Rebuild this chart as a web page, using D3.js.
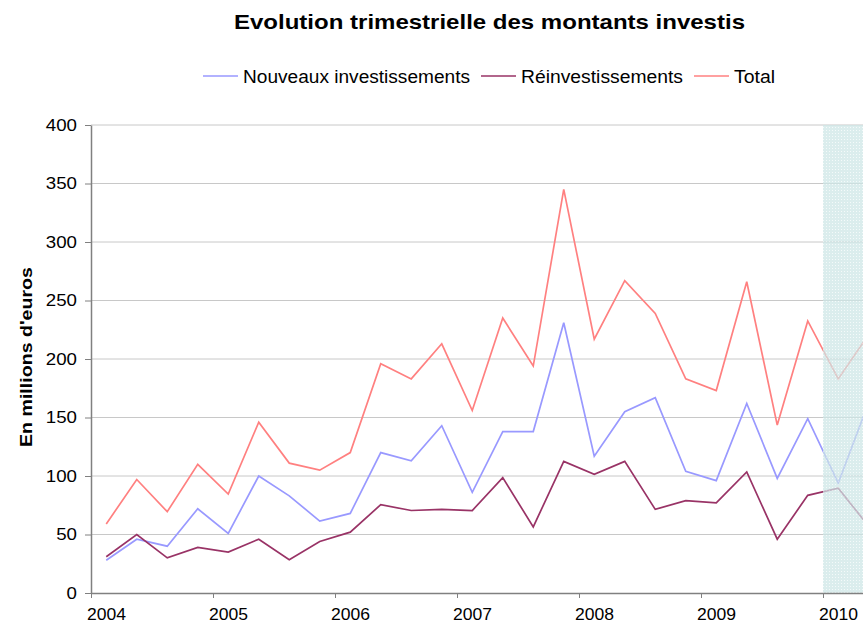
<!DOCTYPE html>
<html><head><meta charset="utf-8">
<script src="https://cdn.jsdelivr.net/npm/d3@7"></script>
<style>body{margin:0;background:#fff;overflow:hidden}svg{display:block;font-family:Arial,"Liberation Sans",sans-serif}</style>
</head><body><svg id="c" width="863" height="626"></svg>
<script>
const quarters = ["2004T1","2004T2","2004T3","2004T4","2005T1","2005T2","2005T3","2005T4","2006T1","2006T2","2006T3","2006T4","2007T1","2007T2","2007T3","2007T4","2008T1","2008T2","2008T3","2008T4","2009T1","2009T2","2009T3","2009T4","2010T1","2010T2"];
const nouveaux = [28,46,40,72,51,100,83,61.5,68,120,113,143,86,138,138,231,117,155,167,104,96,162,98,149,94,163];
const reinvest = [31,50,30,39,35,46,28.5,44,52,75.5,70.5,71.5,70.5,98.6,56.5,112.5,101.5,112.5,71.5,79,77,103.5,46,83.5,89.5,57];
const total = [59,97,69.5,110,84.5,146,111,105,120,196,183,213,156,235,194,345,217,267,239,183,173,266,143.5,232.5,183,221];
const yTicks = [0,50,100,150,200,250,300,350,400];
const yearTicks = [2004,2005,2006,2007,2008,2009,2010];
const shadeStart = 2010;
const seriesNames = ["Nouveaux investissements","Réinvestissements","Total"];
const colors = ["#9999ff","#993366","#ff8080"];

const svg = d3.select("#c");
const x = d3.scaleLinear().domain([2004, 2011]).range([91, 945]);
const y = d3.scaleLinear().domain([0, 400]).range([593, 125]);
const qx = i => x(2004 + (i + 0.5) / 4);
const FONT = "Arial, 'Liberation Sans', sans-serif";

// title
svg.append("text").attr("x", 489.5).attr("y", 29).attr("text-anchor","middle")
  .attr("font-size", 21).attr("font-weight","bold")
  .attr("textLength", 511).attr("lengthAdjust","spacingAndGlyphs")
  .text("Evolution trimestrielle des montants investis");

// gridlines
svg.append("g").selectAll("line").data(yTicks.filter(d=>d>0)).join("line")
  .attr("x1", x(2004)).attr("x2", 863).attr("y1", d=>y(d)).attr("y2", d=>y(d))
  .attr("stroke","#c8c8c8").attr("stroke-width",1);

// lines
const series = [nouveaux, reinvest, total];
const line = d3.line().x((d,i)=>qx(i)).y(d=>y(d));
series.forEach((s,k)=>{
  svg.append("path").datum(s).attr("d", line).attr("fill","none")
    .attr("stroke", colors[k]).attr("stroke-width", 1.7).attr("stroke-linejoin","miter");
});

// shading
const defs = svg.append("defs");
const pat = defs.append("pattern").attr("id","dots").attr("width",3).attr("height",3).attr("patternUnits","userSpaceOnUse");
pat.append("rect").attr("width",3).attr("height",3).attr("fill","#cde6e6");
pat.append("rect").attr("x",1).attr("y",1).attr("width",1).attr("height",1).attr("fill","#ffffff").attr("opacity",0.7);
svg.append("rect").attr("x", x(shadeStart)).attr("y", y(400)).attr("width", 863 - x(shadeStart))
  .attr("height", y(0) - y(400)).attr("fill","url(#dots)").attr("opacity",0.72);

// y axis
const yAxis = d3.axisLeft(y).tickValues(yTicks).tickSize(6).tickSizeOuter(0).tickPadding(8);
const gy = svg.append("g").attr("transform",`translate(${x(2004)},0)`).call(yAxis);
gy.select(".domain").attr("stroke","#808080").attr("stroke-width",1.5);
gy.selectAll(".tick line").attr("stroke","#808080");
gy.selectAll(".tick text").attr("font-size",16.5).attr("fill","#000").attr("font-family",FONT)
  .attr("textLength", d => String(d).length * 10.4).attr("lengthAdjust","spacingAndGlyphs");

// x axis
const xAxis = d3.axisBottom(x).tickValues(yearTicks).tickSize(5).tickSizeOuter(0).tickFormat(d3.format("d"));
const gx = svg.append("g").attr("transform",`translate(0,${y(0)})`).call(xAxis);
gx.select(".domain").attr("stroke","#808080").attr("stroke-width",1.5);
gx.selectAll(".tick line").attr("stroke","#808080");
gx.selectAll(".tick text").attr("font-size",17).attr("fill","#000").attr("x",15).attr("y",27).attr("dy",0)
  .attr("font-family",FONT).attr("textLength",39).attr("lengthAdjust","spacingAndGlyphs");

// y label
svg.append("text").attr("transform","translate(32,357) rotate(-90)").attr("text-anchor","middle")
  .attr("font-size",17).attr("font-weight","bold")
  .attr("textLength",180).attr("lengthAdjust","spacingAndGlyphs").text("En millions d'euros");

// legend
const legX = [203, 481, 694];
const legW = [227, 162, 41];
const lg = svg.append("g");
seriesNames.forEach((n,k)=>{
  lg.append("line").attr("x1",legX[k]).attr("x2",legX[k]+35).attr("y1",76).attr("y2",76)
    .attr("stroke",colors[k]).attr("stroke-width",1.7);
  lg.append("text").attr("x",legX[k]+40).attr("y",82.5).attr("font-size",17.5)
    .attr("textLength",legW[k]).attr("lengthAdjust","spacingAndGlyphs").text(n);
});
</script></body></html>
